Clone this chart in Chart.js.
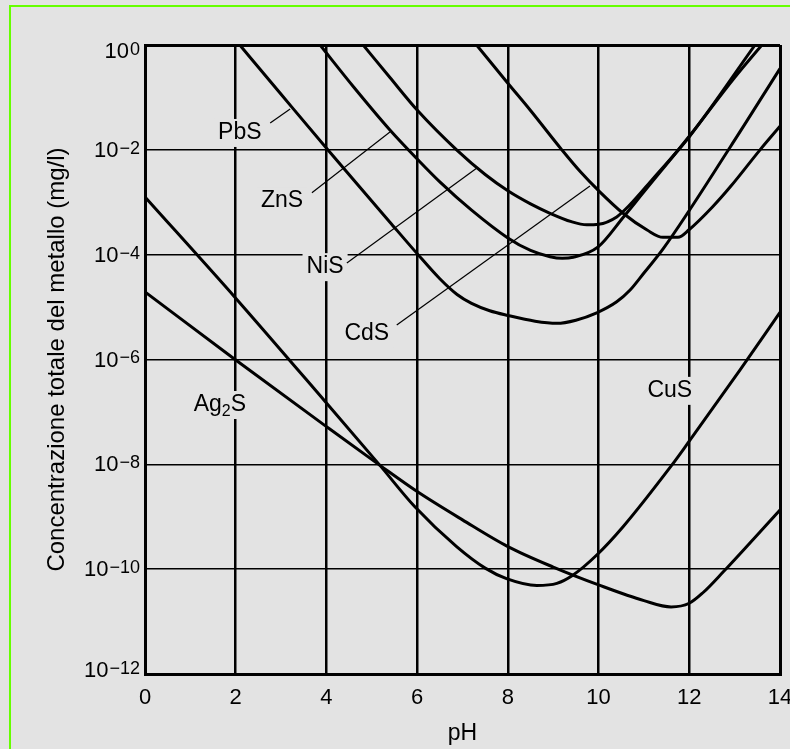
<!DOCTYPE html>
<html>
<head>
<meta charset="utf-8">
<script src="https://cdn.jsdelivr.net/npm/chart.js@4"></script>
<style>
  html, body { margin: 0; padding: 0; background: #e3e3e3; }
  #wrap { position: relative; width: 790px; height: 749px; overflow: hidden; }
  #frame { position: absolute; left: 9px; top: 5px; right: -5px; bottom: -5px;
    border-left: 2px solid #66ff00; border-top: 2px solid #66ff00; pointer-events: none; }
  canvas { position: absolute; left: 0; top: 0; }
</style>
</head>
<body>
<div id="wrap">
  <canvas id="myChart" width="790" height="749"></canvas>
  <div id="frame"></div>
</div>
<script>
const fam = '"Liberation Sans", Arial, Helvetica, sans-serif';

const phTicks = [0, 2, 4, 6, 8, 10, 12, 14];
const decades = [0, -2, -4, -6, -8, -10, -12];

// curves: pH and log10 of the concentration (mg/l)
const pbsPH  = [2.09, 3.0, 4.03, 5.4, 6.0, 6.5, 6.88, 7.2, 7.6, 8.0, 8.6, 9.08, 9.5, 9.96, 10.4, 10.69, 11.0, 11.43, 12.9, 14.0];
const pbsExp = [0, -0.94, -2.0, -3.38, -3.98, -4.46, -4.76, -4.93, -5.07, -5.16, -5.27, -5.31, -5.25, -5.11, -4.9, -4.68, -4.35, -3.88, -1.95, -0.45];

const znsPH  = [3.86, 4.6, 5.4, 6.03, 6.5, 7.2, 8.0, 8.5, 8.93, 9.2, 9.44, 9.99, 10.55, 11.0, 12.0, 13.0, 13.6];
const znsExp = [0, -0.8, -1.62, -2.2, -2.61, -3.15, -3.68, -3.92, -4.04, -4.07, -4.05, -3.85, -3.28, -2.8, -1.74, -0.62, 0];

const nisPH  = [4.81, 5.4, 6.02, 6.87, 7.5, 8.0, 8.5, 8.93, 9.4, 9.74, 10.0, 10.4, 10.69, 11.2, 12.0, 13.45];
const nisExp = [0, -0.62, -1.26, -2.0, -2.47, -2.78, -3.03, -3.21, -3.37, -3.43, -3.42, -3.28, -3.05, -2.55, -1.75, 0];

const cdsPH  = [7.31, 8.0, 8.5, 9.19, 9.6, 9.99, 10.54, 11.07, 11.42, 11.75, 12.0, 12.5, 12.9, 13.56, 14.0];
const cdsExp = [0, -0.73, -1.25, -2.0, -2.42, -2.77, -3.21, -3.53, -3.67, -3.67, -3.52, -3.1, -2.71, -2.0, -1.55];

const cusPH  = [0, 2, 4, 5.18, 5.95, 6.87, 7.5, 7.97, 8.64, 9.08, 9.44, 9.96, 10.54, 11.61, 11.94, 13.12, 14.0];
const cusExp = [-2.9, -4.83, -6.83, -8.02, -8.81, -9.57, -9.98, -10.18, -10.31, -10.27, -10.11, -9.73, -9.19, -8.02, -7.63, -6.2, -5.1];

const agsPH  = [0, 2, 4, 5.18, 6.0, 7.0, 8.0, 9.0, 10.0, 11.0, 11.6, 12.0, 12.3, 12.75, 14.0];
const agsExp = [-4.71, -6.01, -7.28, -8.02, -8.52, -9.06, -9.57, -9.96, -10.3, -10.6, -10.72, -10.65, -10.45, -10.05, -8.87];

// curve names, where they sit, and the thin pointer lines
const labelText = ['PbS', 'ZnS', 'NiS', 'CdS', 'Ag2S', 'CuS'];
const labelPH   = [2.09, 3.02, 3.97, 4.89, 1.65, 11.57];
const labelExp  = [-1.64, -2.94, -4.2, -5.46, -6.83, -6.56];

const leaderPH  = [[2.76, 3.2], [3.68, 5.4], [4.45, 7.31], [5.55, 9.81]];
const leaderExp = [[-1.49, -1.22], [-2.82, -1.66], [-4.16, -2.35], [-5.34, -2.69]];

function toPoints(xs, es) {
  return xs.map((x, i) => ({ x: x, y: Math.pow(10, es[i]) }));
}

const curves = [
  [pbsPH, pbsExp], [znsPH, znsExp], [nisPH, nisExp],
  [cdsPH, cdsExp], [cusPH, cusExp], [agsPH, agsExp]
];

const datasets = [];
curves.forEach((c) => {
  datasets.push({
    data: toPoints(c[0], c[1]),
    borderColor: '#000', borderWidth: 3, pointRadius: 0,
    cubicInterpolationMode: 'monotone', fill: false
  });
});
leaderPH.forEach((xs, i) => {
  datasets.push({
    data: toPoints(xs, leaderExp[i]),
    borderColor: '#000', borderWidth: 1.2, pointRadius: 0, tension: 0, fill: false
  });
});

const annotate = {
  id: 'annotate',
  beforeDatasetsDraw(chart) {
    const ctx = chart.ctx;
    const xs = chart.scales.x, ys = chart.scales.y;
    ctx.save();
    ctx.fillStyle = '#000';

    // y tick labels: 10 with exponent
    decades.forEach((e, i) => {
      let y = ys.getPixelForValue(Math.pow(10, e));
      if (i === 0) y += 6;
      if (i === decades.length - 1) y -= 4;
      const sup = e === 0 ? '0' : '\u2212' + (-e);
      const right = 140;
      ctx.font = '18px ' + fam;
      const sw = ctx.measureText(sup).width;
      ctx.textAlign = 'right';
      ctx.textBaseline = 'top';
      ctx.fillText(sup, right, y - 10);
      ctx.font = '22px ' + fam;
      ctx.textBaseline = 'middle';
      ctx.fillText('10', right - sw - 1, y + 1);
    });

    // curve names (digits as subscripts), on a patch that hides the grid
    labelText.forEach((t, i) => {
      const px = xs.getPixelForValue(labelPH[i]);
      const py = ys.getPixelForValue(Math.pow(10, labelExp[i])) + 2;
      const parts = t.split(/(\d)/).filter(s => s.length);
      let w = 0;
      const widths = parts.map(p => {
        ctx.font = (/\d/.test(p) ? '16px ' : '23px ') + fam;
        const pw = ctx.measureText(p).width;
        w += pw;
        return pw;
      });
      ctx.fillStyle = '#e3e3e3';
      ctx.fillRect(px - w / 2 - 4, py - 14, w + 8, 28);
      ctx.fillStyle = '#000';
      ctx.textAlign = 'left';
      ctx.textBaseline = 'middle';
      let cx = px - w / 2;
      parts.forEach((p, k) => {
        const sub = /\d/.test(p);
        ctx.font = (sub ? '16px ' : '23px ') + fam;
        ctx.fillText(p, cx, sub ? py + 7 : py);
        cx += widths[k];
      });
    });
    ctx.restore();
  }
};

function edgeWidth(ctx, inner, outer) {
  const n = ctx.scale.ticks.length;
  return (ctx.index === 0 || ctx.index === n - 1) ? outer : inner;
}

let myChart = new Chart(document.getElementById('myChart'), {
  type: 'line',
  data: { datasets: datasets },
  options: {
    responsive: false,
    animation: false,
    layout: { padding: { top: 45, right: 10, left: 0, bottom: 0 } },
    plugins: { legend: { display: false }, tooltip: { enabled: false } },
    scales: {
      x: {
        type: 'linear', min: 0, max: 14,
        afterBuildTicks: (s) => { s.ticks = phTicks.map(v => ({ value: v })); },
        afterFit: (s) => { s.height = 75; s.paddingLeft = 0; s.paddingRight = 0; },
        ticks: { color: '#000', font: { family: fam, size: 22 }, padding: 11, maxRotation: 0 },
        grid: { color: '#000', lineWidth: (c) => edgeWidth(c, 2.5, 3), drawTicks: false },
        border: { color: '#000', width: 3 },
        title: { display: true, text: 'pH', color: '#000', font: { family: fam, size: 23 },
          padding: { top: 0, bottom: 2 } }
      },
      y: {
        type: 'logarithmic', min: 1e-12, max: 1,
        afterBuildTicks: (s) => { s.ticks = decades.map(e => ({ value: Math.pow(10, e) })); },
        afterFit: (s) => { s.width = 145; },
        ticks: { display: false },
        grid: { color: '#000', lineWidth: (c) => edgeWidth(c, 1.5, 3), drawTicks: false },
        border: { color: '#000', width: 3 },
        title: { display: true, text: 'Concentrazione totale del metallo (mg/l)', color: '#000',
          font: { family: fam, size: 24 }, padding: { top: 43, bottom: 0 } }
      }
    }
  },
  plugins: [annotate]
});
</script>
</body>
</html>
